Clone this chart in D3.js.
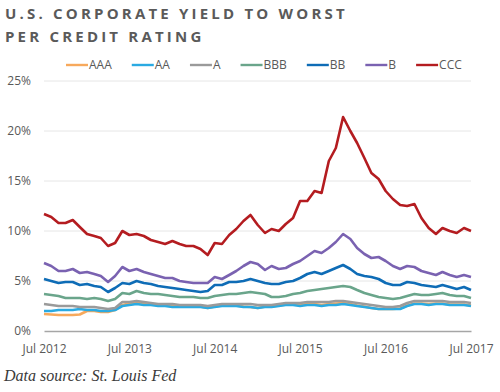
<!DOCTYPE html>
<html>
<head>
<meta charset="utf-8">
<script src="https://cdn.jsdelivr.net/npm/d3@7"></script>
<style>
	body { margin: 0; background: #fff; }
	svg { display: block; }
</style>
</head>
<body>
<div id="chart"></div>
<script>
// Meses (datos mensuales, jul 2012 - jul 2017)
const meses = [
	"2012-07","2012-08","2012-09","2012-10","2012-11","2012-12",
	"2013-01","2013-02","2013-03","2013-04","2013-05","2013-06",
	"2013-07","2013-08","2013-09","2013-10","2013-11","2013-12",
	"2014-01","2014-02","2014-03","2014-04","2014-05","2014-06",
	"2014-07","2014-08","2014-09","2014-10","2014-11","2014-12",
	"2015-01","2015-02","2015-03","2015-04","2015-05","2015-06",
	"2015-07","2015-08","2015-09","2015-10","2015-11","2015-12",
	"2016-01","2016-02","2016-03","2016-04","2016-05","2016-06",
	"2016-07","2016-08","2016-09","2016-10","2016-11","2016-12",
	"2017-01","2017-02","2017-03","2017-04","2017-05","2017-06",
	"2017-07"
];

// Rendimientos (%) por calificación
const aaa = [1.7,1.65,1.6,1.6,1.6,1.65, 2.0,2.0,1.9,1.9,2.1,2.6, 2.75,2.85,2.75,2.7,2.6,2.55, 2.5,2.5,2.45,2.45,2.45,2.3, 2.45,2.55,2.55,2.55,2.45,2.4, 2.3,2.45,2.45,2.55,2.65,2.65, 2.6,2.7,2.7,2.6,2.7,2.75, 2.8,2.7,2.55,2.45,2.3,2.2, 2.2,2.2,2.25,2.55,2.75,2.75, 2.7,2.75,2.75,2.65,2.65,2.65, 2.55];
const aa  = [2.0,2.0,2.1,2.1,2.1,2.2, 2.1,2.1,2.0,2.0,2.1,2.5, 2.6,2.7,2.6,2.6,2.5,2.5, 2.4,2.4,2.4,2.4,2.4,2.3, 2.4,2.5,2.5,2.5,2.4,2.4, 2.3,2.4,2.4,2.5,2.6,2.6, 2.5,2.6,2.6,2.5,2.6,2.6, 2.7,2.6,2.5,2.4,2.3,2.2, 2.2,2.2,2.2,2.5,2.7,2.7, 2.6,2.7,2.7,2.6,2.6,2.6, 2.5];
const a   = [2.7,2.6,2.5,2.5,2.5,2.4, 2.4,2.4,2.3,2.2,2.3,2.9, 2.9,3.0,2.9,2.8,2.7,2.7, 2.7,2.6,2.6,2.6,2.6,2.5, 2.6,2.7,2.7,2.7,2.7,2.7, 2.6,2.6,2.6,2.7,2.8,2.8, 2.8,2.9,2.9,2.9,2.9,3.0, 3.0,2.9,2.8,2.7,2.6,2.5, 2.4,2.4,2.5,2.8,3.0,3.0, 3.0,3.0,3.0,2.9,2.9,2.9, 2.8];
const bbb = [3.7,3.6,3.5,3.3,3.3,3.3, 3.2,3.3,3.2,3.0,3.2,3.8, 3.7,4.0,3.8,3.7,3.7,3.6, 3.5,3.4,3.4,3.4,3.3,3.3, 3.5,3.6,3.7,3.7,3.8,3.9, 3.8,3.7,3.4,3.4,3.5,3.7, 3.8,4.0,4.1,4.2,4.3,4.4, 4.5,4.4,4.1,3.8,3.6,3.4, 3.3,3.2,3.3,3.5,3.7,3.6, 3.6,3.7,3.8,3.6,3.5,3.5, 3.3];
const bb  = [5.2,5.0,4.8,4.9,4.9,4.6, 4.7,4.5,4.4,3.9,4.3,4.8, 4.7,5.0,4.8,4.7,4.5,4.4, 4.3,4.2,4.1,4.0,3.9,4.0, 4.6,4.6,4.9,4.9,5.0,5.2, 5.0,4.8,4.7,4.7,4.9,5.0, 5.3,5.7,5.9,5.7,6.0,6.3, 6.6,6.2,5.7,5.5,5.4,5.2, 4.8,4.6,4.6,4.9,4.8,4.6, 4.5,4.4,4.6,4.4,4.2,4.4, 4.1];
const b   = [6.8,6.5,6.0,6.0,6.2,5.8, 5.9,5.7,5.5,4.9,5.5,6.4, 6.0,6.2,5.9,5.7,5.5,5.3, 5.3,5.0,4.9,4.8,4.8,4.8, 5.4,5.2,5.6,6.0,6.5,6.9, 6.7,6.1,6.5,6.2,6.3,6.7, 7.0,7.5,8.0,7.8,8.3,8.9, 9.7,9.2,8.3,7.7,7.3,7.4, 7.0,6.5,6.2,6.5,6.4,6.0, 5.8,5.6,5.9,5.6,5.4,5.6, 5.4];
const ccc = [11.7,11.4,10.8,10.8,11.1,10.4, 9.7,9.5,9.3,8.5,8.8,10.0, 9.6,9.7,9.5,9.1,8.9,8.7, 9.0,8.7,8.5,8.5,8.2,7.6, 8.8,8.7,9.6,10.2,11.0,11.6, 10.6,9.8,10.2,10.0,10.7,11.3, 13.0,13.0,14.0,13.8,17.0,18.3, 21.4,20.0,18.8,17.3,15.8,15.2, 14.0,13.2,12.6,12.5,12.7,11.3, 10.3,9.7,10.3,10.0,9.8,10.3, 10.0];

const series = ["AAA", "AA", "A", "BBB", "BB", "B", "CCC"];
const colores = ["#f7a95c", "#2aaae2", "#9a9a9a", "#6aa58b", "#0e6cb6", "#7a62b1", "#b41c20"];
const valoresY = [0, 5, 10, 15, 20, 25];
const ticksX = ["2012-07", "2013-07", "2014-07", "2015-07", "2016-07", "2017-07"];

const datos = [aaa, aa, a, bbb, bb, b, ccc];

function init() {
	const width = 500;
	const height = 392;
	const parse = d3.timeParse("%Y-%m");
	const fechas = meses.map(parse);

	const svg = d3.select("#chart")
		.append("svg")
		.attr("width", width)
		.attr("height", height);

	// Escalas
	const x = d3.scaleTime()
		.domain([parse(ticksX[0]), parse(ticksX[ticksX.length - 1])])
		.range([44, 471]);
	const y = d3.scaleLinear()
		.domain([0, 25])
		.range([331, 81]);

	// Título
	const titulo = svg.append("text")
		.attr("font-family", "'Open Sans', sans-serif")
		.attr("font-weight", 700)
		.attr("font-size", 15)
		.attr("letter-spacing", "3.2px")
		.attr("fill", "#5a5a5a");
	titulo.append("tspan").attr("x", 5).attr("y", 19).text("U.S. CORPORATE YIELD TO WORST");
	titulo.append("tspan").attr("x", 5).attr("y", 42).text("PER CREDIT RATING");

	// Líneas de cuadrícula
	svg.append("g")
		.selectAll("line")
		.data(valoresY.filter(v => v > 0))
		.enter()
		.append("line")
		.attr("x1", x.range()[0])
		.attr("x2", x.range()[1])
		.attr("y1", d => y(d))
		.attr("y2", d => y(d))
		.attr("stroke", "#e6e6e6")
		.attr("stroke-width", 1);

	// Eje Y
	const ejeY = svg.append("g")
		.attr("transform", `translate(${x.range()[0]},0)`)
		.call(d3.axisLeft(y).tickValues(valoresY).tickSize(0).tickPadding(13).tickFormat(d => d + "%"));
	ejeY.select(".domain").remove();
	ejeY.selectAll("text")
		.attr("font-family", "'Open Sans', sans-serif")
		.attr("font-size", 12)
		.attr("fill", "#595959");

	// Eje X
	const ejeX = svg.append("g")
		.attr("transform", `translate(0,${y(0)})`)
		.call(d3.axisBottom(x).tickValues(ticksX.map(parse)).tickSize(0).tickPadding(13.5).tickFormat(d3.timeFormat("Jul %Y")));
	ejeX.select(".domain")
		.attr("stroke", "#a6a6a6")
		.attr("stroke-width", 1.6);
	ejeX.selectAll("text")
		.attr("font-family", "'Open Sans', sans-serif")
		.attr("font-size", 12)
		.attr("fill", "#595959");

	// Series
	const linea = d3.line()
		.x((d, i) => x(fechas[i]))
		.y(d => y(d));

	svg.append("g")
		.selectAll("path")
		.data(datos)
		.enter()
		.append("path")
		.attr("d", d => linea(d))
		.attr("fill", "none")
		.attr("stroke", (d, i) => colores[i])
		.attr("stroke-width", 2.6)
		.attr("stroke-linejoin", "round");

	// Leyenda
	const leyenda = svg.append("g");
	let posX = 66;
	series.forEach((nombre, i) => {
		leyenda.append("line")
			.attr("x1", posX)
			.attr("x2", posX + 22)
			.attr("y1", 65)
			.attr("y2", 65)
			.attr("stroke", colores[i])
			.attr("stroke-width", 2.4);
		const txt = leyenda.append("text")
			.attr("x", posX + 23)
			.attr("y", 65)
			.attr("dy", "0.35em")
			.attr("font-family", "'Open Sans', sans-serif")
			.attr("font-size", 12)
			.attr("fill", "#595959")
			.text(nombre);
		posX += 23 + txt.node().getComputedTextLength() + 20;
	});

	// Fuente
	svg.append("text")
		.attr("x", 4)
		.attr("y", 381)
		.attr("font-family", "'Liberation Serif', serif")
		.attr("font-style", "italic")
		.attr("font-size", 16)
		.attr("fill", "#3a3a3a")
		.text("Data source: St. Louis Fed");
}

document.addEventListener("DOMContentLoaded", init, false);
</script>
</body>
</html>
